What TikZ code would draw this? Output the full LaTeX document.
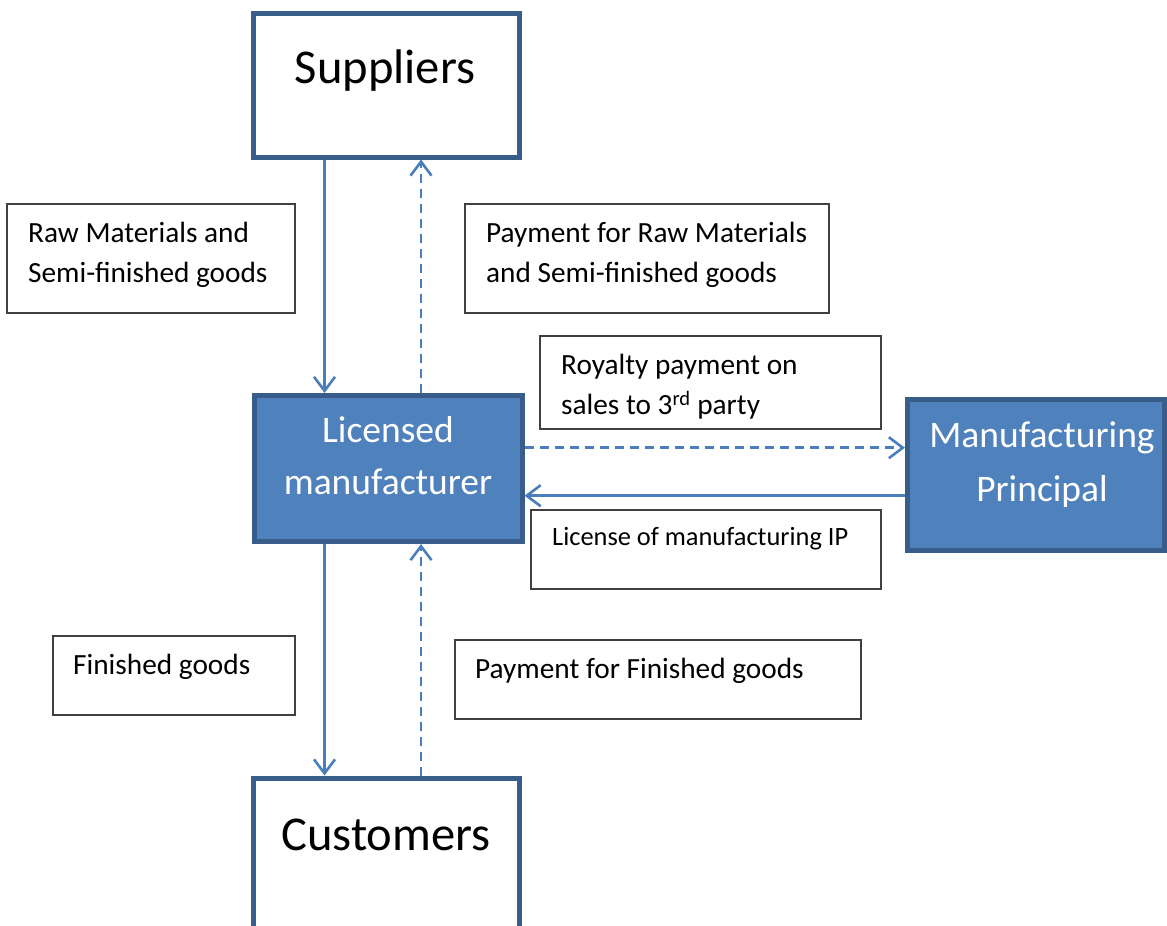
\documentclass[tikz,border=0pt]{standalone}
\usepackage{fontspec}
\setmainfont{Carlito}
\usetikzlibrary{arrows.meta}
\definecolor{boxline}{HTML}{385D8A}
\definecolor{boxfill}{HTML}{4F81BD}
\definecolor{arrowc}{HTML}{4A7EBB}
\definecolor{lblline}{HTML}{404040}
\begin{document}
\begin{tikzpicture}[x=1pt,y=-1pt,
  mainbox/.style={draw=boxline, line width=5pt, inner sep=0pt, rectangle},
  whitebox/.style={mainbox, fill=white},
  bluebox/.style={mainbox, fill=boxfill},
  lblbox/.style={draw=lblline, line width=1.5pt, inner sep=0pt, rectangle, fill=white},
  lbltext/.style={anchor=north west, inner sep=0pt, align=left, font=\fontsize{29.3}{40}\selectfont},
  bigtext/.style={anchor=base, inner sep=0pt, font=\fontsize{48.6}{56}\selectfont},
  midtext/.style={anchor=north, inner sep=0pt, align=center, text=white},
  solidarr/.style={draw=arrowc, line width=2.6pt, -{Straight Barb[length=14pt,width=21pt,line width=2.6pt]}},
  dasharr/.style={solidarr, dash pattern=on 9pt off 6pt}
]
\useasboundingbox (0,0) rectangle (1167,926);
\clip (0,0) rectangle (1167,926);
\fill[white] (0,0) rectangle (1167,926);

% main boxes
\node[whitebox, minimum width=266pt, minimum height=144pt] (sup) at (386,85) {};
\node[bluebox, minimum width=268pt, minimum height=146pt] (lic) at (388,468.5) {};
\node[bluebox, minimum width=257pt, minimum height=151pt] (pri) at (1036,474.5) {};
\node[whitebox, minimum width=266pt, minimum height=170pt] (cus) at (386,863) {};

\node[bigtext] (suptext) at (385,83) {Suppliers};
\node[bigtext] (custext) at (386,850) {Customers};
\node[midtext, font=\fontsize{37.5}{52}\selectfont] (lictext) at (388,405.6) {\strut Licensed\\manufacturer};
\node[midtext, font=\fontsize{37.5}{54}\selectfont] (pritext) at (1042,409.2) {\strut Manufacturing\\Principal};

% label boxes
\node[lblbox, minimum width=288pt, minimum height=109pt] (l1) at (151,258.5) {};
\node[lblbox, minimum width=364pt, minimum height=109pt] (l2) at (647,258.5) {};
\node[lblbox, minimum width=341pt, minimum height=93pt] (l3) at (710.5,382.5) {};
\node[lblbox, minimum width=350pt, minimum height=79pt] (l4) at (706,549.5) {};
\node[lblbox, minimum width=242pt, minimum height=79pt] (l5) at (174,675.5) {};
\node[lblbox, minimum width=406pt, minimum height=79pt] (l6) at (658,679.5) {};

\node[lbltext] (t1) at (28,214) {\strut Raw Materials and\\Semi-finished goods};
\node[lbltext] (t2) at (486,214) {\strut Payment for Raw Materials\\and Semi-finished goods};
\node[lbltext] (t3) at (561,346) {\strut Royalty payment on\\sales to 3\textsuperscript{rd} party};
\node[lbltext, font=\fontsize{26.4}{37}\selectfont] (t4) at (552,519.5) {\strut License of manufacturing IP};
\node[lbltext] (t5) at (73,646) {\strut Finished goods};
\node[lbltext] (t6) at (475,650) {\strut Payment for Finished goods};

% connectors
\coordinate (xa) at (324.5,0);
\coordinate (xb) at (421,0);
\coordinate (ya) at (0,447.7);
\coordinate (yb) at (0,495.7);
\draw[solidarr] (sup.south -| xa) -- (lic.north -| xa);
\draw[dasharr] (lic.north -| xb) -- (sup.south -| xb);
\draw[solidarr] (lic.south -| xa) -- (cus.north -| xa);
\draw[dasharr] (cus.north -| xb) -- (lic.south -| xb);
\draw[dasharr] (lic.east |- ya) -- (pri.west |- ya);
\draw[solidarr] (pri.west |- yb) -- (lic.east |- yb);
\end{tikzpicture}
\end{document}
